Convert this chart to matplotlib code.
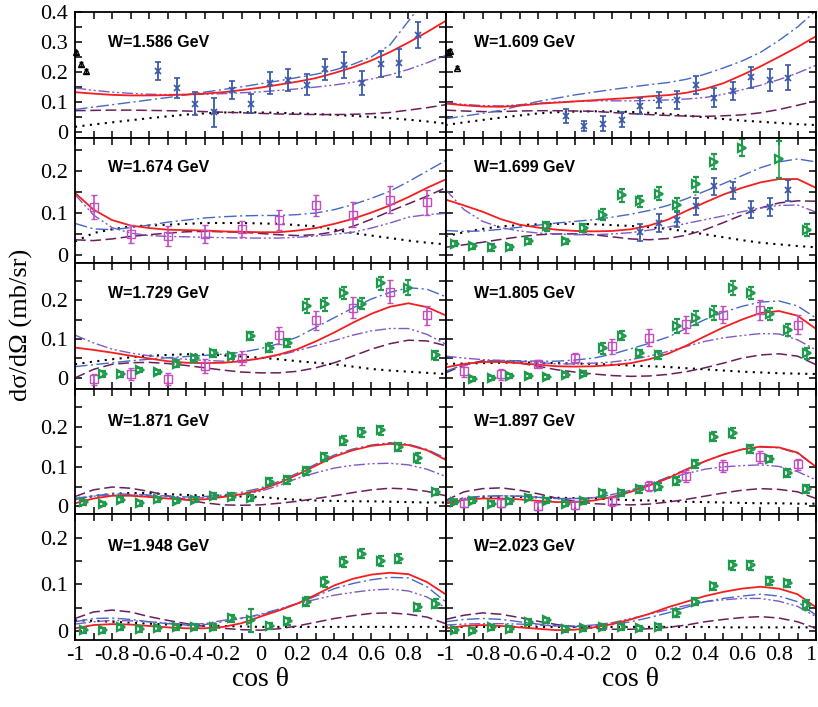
import numpy as np
import matplotlib.pyplot as plt

plt.rcParams['font.family'] = ['Liberation Serif', 'DejaVu Serif']

energies = ["1.586", "1.609", "1.674", "1.699", "1.729",
            "1.805", "1.871", "1.897", "1.948", "2.023"]

cos_grid = [-1.0, -0.9, -0.8, -0.7, -0.6, -0.5, -0.4, -0.3, -0.2, -0.1, 0.0,
            0.1, 0.2, 0.3, 0.4, 0.5, 0.6, 0.7, 0.8, 0.9, 1.0]

# model curves, one row per energy (red solid)
full_model = [
    [0.132, 0.127, 0.123, 0.121, 0.121, 0.122, 0.124, 0.127, 0.132, 0.139, 0.147, 0.157, 0.167, 0.179, 0.196, 0.215, 0.238, 0.266, 0.298, 0.333, 0.370],
    [0.094, 0.088, 0.084, 0.083, 0.087, 0.093, 0.097, 0.101, 0.105, 0.109, 0.113, 0.118, 0.122, 0.130, 0.143, 0.162, 0.189, 0.218, 0.250, 0.283, 0.319],
    [0.148, 0.108, 0.083, 0.070, 0.064, 0.060, 0.059, 0.058, 0.056, 0.055, 0.054, 0.054, 0.058, 0.064, 0.074, 0.086, 0.101, 0.118, 0.138, 0.160, 0.180],
    [0.132, 0.118, 0.103, 0.085, 0.072, 0.065, 0.060, 0.057, 0.056, 0.057, 0.061, 0.070, 0.084, 0.105, 0.125, 0.144, 0.160, 0.173, 0.181, 0.181, 0.160],
    [0.078, 0.072, 0.065, 0.057, 0.050, 0.043, 0.039, 0.038, 0.039, 0.043, 0.050, 0.060, 0.074, 0.094, 0.117, 0.142, 0.165, 0.183, 0.192, 0.182, 0.161],
    [0.027, 0.036, 0.041, 0.041, 0.038, 0.034, 0.030, 0.029, 0.030, 0.033, 0.038, 0.048, 0.062, 0.083, 0.107, 0.130, 0.150, 0.167, 0.172, 0.160, 0.126],
    [0.008, 0.020, 0.027, 0.027, 0.024, 0.020, 0.017, 0.018, 0.024, 0.031, 0.042, 0.059, 0.080, 0.103, 0.126, 0.142, 0.153, 0.158, 0.155, 0.142, 0.118],
    [0.007, 0.017, 0.020, 0.020, 0.018, 0.014, 0.011, 0.011, 0.015, 0.024, 0.037, 0.053, 0.071, 0.093, 0.114, 0.131, 0.144, 0.151, 0.149, 0.136, 0.100],
    [0.006, 0.013, 0.015, 0.014, 0.011, 0.008, 0.006, 0.006, 0.009, 0.017, 0.031, 0.044, 0.059, 0.078, 0.098, 0.112, 0.121, 0.125, 0.122, 0.105, 0.079],
    [0.006, 0.011, 0.013, 0.011, 0.008, 0.005, 0.002, 0.003, 0.008, 0.015, 0.025, 0.037, 0.051, 0.063, 0.075, 0.084, 0.091, 0.095, 0.091, 0.079, 0.051],
]

# blue dash-dot
model_dashdot = [
    [0.074, 0.082, 0.090, 0.098, 0.106, 0.114, 0.123, 0.132, 0.141, 0.150, 0.160, 0.170, 0.181, 0.192, 0.206, 0.225, 0.250, 0.290, 0.370, 0.450, 0.520],
    [0.043, 0.052, 0.061, 0.071, 0.087, 0.101, 0.112, 0.123, 0.132, 0.141, 0.149, 0.157, 0.164, 0.175, 0.192, 0.213, 0.236, 0.265, 0.305, 0.350, 0.405],
    [0.075, 0.062, 0.060, 0.065, 0.071, 0.078, 0.083, 0.088, 0.091, 0.093, 0.094, 0.094, 0.096, 0.100, 0.108, 0.120, 0.135, 0.152, 0.175, 0.200, 0.225],
    [0.058, 0.056, 0.057, 0.061, 0.066, 0.071, 0.076, 0.080, 0.084, 0.090, 0.097, 0.106, 0.118, 0.134, 0.152, 0.170, 0.189, 0.208, 0.222, 0.229, 0.222],
    [0.029, 0.034, 0.039, 0.044, 0.048, 0.052, 0.055, 0.058, 0.061, 0.066, 0.075, 0.088, 0.105, 0.130, 0.155, 0.180, 0.203, 0.220, 0.232, 0.228, 0.209],
    [0.017, 0.034, 0.043, 0.045, 0.044, 0.043, 0.043, 0.046, 0.051, 0.061, 0.075, 0.089, 0.105, 0.127, 0.150, 0.169, 0.184, 0.195, 0.198, 0.185, 0.154],
    [0.017, 0.027, 0.032, 0.031, 0.029, 0.026, 0.024, 0.025, 0.029, 0.036, 0.046, 0.063, 0.084, 0.107, 0.130, 0.145, 0.155, 0.161, 0.157, 0.144, 0.122],
    [0.015, 0.022, 0.026, 0.027, 0.026, 0.023, 0.020, 0.020, 0.022, 0.030, 0.041, 0.056, 0.074, 0.094, 0.114, 0.131, 0.144, 0.150, 0.148, 0.134, 0.100],
    [0.020, 0.027, 0.028, 0.025, 0.020, 0.016, 0.013, 0.014, 0.020, 0.027, 0.036, 0.047, 0.059, 0.075, 0.091, 0.102, 0.110, 0.115, 0.114, 0.095, 0.063],
    [0.020, 0.025, 0.027, 0.025, 0.020, 0.015, 0.011, 0.010, 0.011, 0.014, 0.020, 0.029, 0.039, 0.051, 0.063, 0.070, 0.075, 0.079, 0.075, 0.063, 0.034],
]

# purple dash-dot-dot
model_dashdotdot = [
    [0.146, 0.138, 0.132, 0.128, 0.125, 0.124, 0.124, 0.125, 0.127, 0.130, 0.133, 0.138, 0.143, 0.149, 0.156, 0.165, 0.176, 0.190, 0.208, 0.230, 0.255],
    [0.097, 0.091, 0.087, 0.086, 0.090, 0.095, 0.099, 0.101, 0.103, 0.103, 0.103, 0.104, 0.106, 0.109, 0.114, 0.125, 0.140, 0.155, 0.174, 0.196, 0.222],
    [0.144, 0.095, 0.065, 0.052, 0.046, 0.044, 0.043, 0.042, 0.041, 0.040, 0.040, 0.040, 0.042, 0.045, 0.049, 0.054, 0.064, 0.076, 0.090, 0.096, 0.099],
    [0.156, 0.108, 0.080, 0.065, 0.057, 0.052, 0.050, 0.048, 0.048, 0.050, 0.053, 0.059, 0.066, 0.075, 0.084, 0.093, 0.103, 0.112, 0.118, 0.119, 0.102],
    [0.110, 0.090, 0.074, 0.064, 0.057, 0.052, 0.048, 0.045, 0.043, 0.045, 0.050, 0.058, 0.070, 0.083, 0.096, 0.110, 0.121, 0.127, 0.127, 0.112, 0.087],
    [0.056, 0.051, 0.047, 0.045, 0.043, 0.040, 0.036, 0.036, 0.038, 0.041, 0.047, 0.056, 0.068, 0.081, 0.094, 0.103, 0.109, 0.114, 0.113, 0.098, 0.072],
    [0.021, 0.026, 0.029, 0.029, 0.027, 0.024, 0.021, 0.022, 0.025, 0.030, 0.038, 0.053, 0.071, 0.085, 0.097, 0.104, 0.108, 0.109, 0.105, 0.094, 0.076],
    [0.011, 0.020, 0.026, 0.027, 0.026, 0.023, 0.020, 0.020, 0.022, 0.030, 0.041, 0.055, 0.071, 0.083, 0.094, 0.100, 0.103, 0.105, 0.101, 0.088, 0.067],
    [0.015, 0.020, 0.023, 0.022, 0.020, 0.017, 0.015, 0.016, 0.023, 0.028, 0.034, 0.046, 0.059, 0.068, 0.077, 0.083, 0.088, 0.090, 0.086, 0.073, 0.050],
    [0.013, 0.015, 0.016, 0.016, 0.015, 0.013, 0.011, 0.011, 0.013, 0.018, 0.027, 0.036, 0.046, 0.055, 0.063, 0.067, 0.070, 0.070, 0.064, 0.053, 0.031],
]

# dark purple dashed
model_dashed = [
    [0.070, 0.071, 0.072, 0.072, 0.071, 0.070, 0.069, 0.067, 0.065, 0.063, 0.061, 0.059, 0.058, 0.057, 0.057, 0.058, 0.060, 0.064, 0.072, 0.080, 0.090],
    [0.072, 0.069, 0.067, 0.067, 0.069, 0.070, 0.070, 0.069, 0.068, 0.064, 0.060, 0.057, 0.054, 0.052, 0.051, 0.053, 0.056, 0.063, 0.074, 0.088, 0.103],
    [0.036, 0.034, 0.038, 0.044, 0.048, 0.052, 0.055, 0.056, 0.055, 0.054, 0.051, 0.048, 0.046, 0.048, 0.055, 0.068, 0.085, 0.104, 0.122, 0.140, 0.160],
    [0.018, 0.024, 0.030, 0.037, 0.043, 0.048, 0.050, 0.050, 0.048, 0.043, 0.038, 0.036, 0.039, 0.047, 0.060, 0.077, 0.095, 0.112, 0.124, 0.129, 0.128],
    [0.000, 0.022, 0.035, 0.039, 0.040, 0.037, 0.032, 0.026, 0.020, 0.015, 0.013, 0.013, 0.017, 0.026, 0.039, 0.056, 0.074, 0.088, 0.097, 0.095, 0.083],
    [0.013, 0.033, 0.044, 0.043, 0.038, 0.030, 0.021, 0.015, 0.010, 0.006, 0.004, 0.005, 0.009, 0.016, 0.026, 0.038, 0.051, 0.059, 0.062, 0.056, 0.034],
    [0.025, 0.042, 0.049, 0.046, 0.038, 0.027, 0.017, 0.009, 0.004, 0.003, 0.004, 0.008, 0.013, 0.020, 0.027, 0.035, 0.042, 0.046, 0.044, 0.038, 0.027],
    [0.015, 0.037, 0.045, 0.047, 0.041, 0.032, 0.021, 0.013, 0.007, 0.005, 0.004, 0.006, 0.011, 0.018, 0.026, 0.034, 0.041, 0.045, 0.043, 0.037, 0.020],
    [0.027, 0.041, 0.045, 0.041, 0.031, 0.023, 0.016, 0.010, 0.006, 0.003, 0.002, 0.005, 0.011, 0.019, 0.027, 0.033, 0.038, 0.039, 0.036, 0.030, 0.016],
    [0.025, 0.034, 0.039, 0.036, 0.029, 0.021, 0.014, 0.009, 0.006, 0.004, 0.004, 0.005, 0.008, 0.013, 0.020, 0.025, 0.029, 0.031, 0.028, 0.020, 0.006],
]

# black dotted
model_dotted = [
    [0.016, 0.024, 0.031, 0.038, 0.045, 0.051, 0.057, 0.061, 0.064, 0.065, 0.064, 0.063, 0.061, 0.059, 0.056, 0.053, 0.049, 0.045, 0.040, 0.034, 0.027],
    [0.022, 0.031, 0.039, 0.047, 0.054, 0.061, 0.065, 0.067, 0.068, 0.068, 0.066, 0.063, 0.059, 0.053, 0.048, 0.042, 0.037, 0.033, 0.029, 0.025, 0.022],
    [0.032, 0.052, 0.061, 0.068, 0.070, 0.072, 0.074, 0.076, 0.076, 0.076, 0.075, 0.074, 0.071, 0.068, 0.060, 0.052, 0.046, 0.040, 0.034, 0.029, 0.025],
    [0.044, 0.054, 0.062, 0.068, 0.071, 0.073, 0.074, 0.074, 0.073, 0.071, 0.069, 0.066, 0.062, 0.056, 0.049, 0.042, 0.035, 0.029, 0.025, 0.021, 0.018],
    [0.035, 0.042, 0.048, 0.053, 0.057, 0.059, 0.061, 0.060, 0.058, 0.055, 0.052, 0.048, 0.043, 0.039, 0.035, 0.029, 0.023, 0.019, 0.016, 0.013, 0.010],
    [0.036, 0.037, 0.038, 0.039, 0.040, 0.039, 0.038, 0.037, 0.036, 0.034, 0.032, 0.030, 0.028, 0.025, 0.022, 0.019, 0.016, 0.014, 0.012, 0.011, 0.010],
    [0.018, 0.026, 0.032, 0.034, 0.034, 0.031, 0.029, 0.028, 0.027, 0.025, 0.024, 0.020, 0.017, 0.015, 0.014, 0.013, 0.013, 0.012, 0.011, 0.010, 0.010],
    [0.009, 0.020, 0.023, 0.024, 0.024, 0.023, 0.022, 0.021, 0.020, 0.018, 0.016, 0.015, 0.014, 0.012, 0.011, 0.010, 0.009, 0.008, 0.008, 0.007, 0.007],
    [0.023, 0.022, 0.020, 0.018, 0.016, 0.014, 0.013, 0.012, 0.011, 0.010, 0.009, 0.009, 0.009, 0.009, 0.009, 0.009, 0.009, 0.009, 0.009, 0.009, 0.009],
    [0.009, 0.009, 0.009, 0.009, 0.009, 0.009, 0.009, 0.009, 0.009, 0.009, 0.009, 0.009, 0.009, 0.009, 0.009, 0.008, 0.008, 0.008, 0.008, 0.008, 0.008],
]

# data: blue crosses (panels 0, 1, 3)
cross_x = {0: [-0.55, -0.45, -0.35, -0.25, -0.15, -0.05, 0.05, 0.15, 0.25, 0.35, 0.45, 0.55, 0.65, 0.75, 0.85],
           1: [-0.35, -0.25, -0.15, -0.05, 0.05, 0.15, 0.25, 0.35, 0.45, 0.55, 0.65, 0.75, 0.85],
           3: [0.05, 0.15, 0.25, 0.35, 0.45, 0.55, 0.65, 0.75, 0.85]}
cross_y = {0: [0.202, 0.146, 0.094, 0.065, 0.138, 0.094, 0.162, 0.173, 0.157, 0.208, 0.222, 0.164, 0.227, 0.229, 0.324],
           1: [0.052, 0.019, 0.027, 0.040, 0.086, 0.106, 0.106, 0.155, 0.114, 0.135, 0.182, 0.173, 0.181],
           3: [0.054, 0.076, 0.084, 0.116, 0.164, 0.154, 0.108, 0.114, 0.154]}
cross_err = {0: [0.030, 0.034, 0.040, 0.049, 0.030, 0.031, 0.036, 0.037, 0.036, 0.035, 0.043, 0.040, 0.043, 0.046, 0.043],
             1: [0.024, 0.018, 0.025, 0.024, 0.027, 0.028, 0.030, 0.030, 0.032, 0.030, 0.035, 0.038, 0.043],
             3: [0.020, 0.022, 0.018, 0.020, 0.020, 0.020, 0.020, 0.022, 0.025]}

# data: magenta open squares (panels 2, 4, 5, 7)
square_x = [-0.9, -0.7, -0.5, -0.3, -0.1, 0.1, 0.3, 0.5, 0.7, 0.9]
square_y = {2: [0.114, 0.050, 0.044, 0.050, 0.062, 0.084, 0.118, 0.096, 0.132, 0.126],
            4: [-0.004, 0.010, -0.003, 0.030, 0.052, 0.110, 0.148, 0.180, 0.222, 0.161],
            5: [0.017, 0.009, 0.037, 0.051, 0.081, 0.103, 0.138, 0.162, 0.175, 0.137],
            7: [0.009, 0.009, 0.000, 0.004, 0.013, 0.052, 0.076, 0.103, 0.125, 0.106]}
square_err = {2: [0.029, 0.021, 0.024, 0.022, 0.020, 0.024, 0.026, 0.029, 0.033, 0.030],
              4: [0.013, 0.015, 0.016, 0.018, 0.018, 0.022, 0.025, 0.027, 0.030, 0.025],
              5: [0.015, 0.015, 0.010, 0.012, 0.020, 0.022, 0.022, 0.022, 0.025, 0.025],
              7: [0.010, 0.010, 0.010, 0.010, 0.012, 0.013, 0.015, 0.015, 0.015, 0.015]}

# data: green open triangles (panels 3..9)
half_bins = [-0.95, -0.85, -0.75, -0.65, -0.55, -0.45, -0.35, -0.25, -0.15, -0.05,
             0.05, 0.15, 0.25, 0.35, 0.45, 0.55, 0.65, 0.75, 0.85, 0.95]
tri_x = {3: [-0.95, -0.85, -0.75, -0.65, -0.55, -0.45, -0.35, -0.25, -0.15, -0.05, 0.05, 0.15, 0.25, 0.35, 0.45, 0.6, 0.8, 0.95],
         4: [-0.85, -0.75, -0.65, -0.55, -0.45, -0.35, -0.25, -0.15, -0.05, 0.05, 0.15, 0.25, 0.35, 0.45, 0.55, 0.65, 0.8, 0.95],
         5: half_bins[1:],
         6: half_bins, 7: half_bins, 8: half_bins, 9: half_bins}
tri_y = {3: [0.026, 0.020, 0.018, 0.018, 0.032, 0.068, 0.032, 0.064, 0.096, 0.142, 0.128, 0.146, 0.120, 0.168, 0.222, 0.256, 0.228, 0.060],
         4: [0.011, 0.009, 0.020, 0.015, 0.037, 0.050, 0.063, 0.057, 0.107, 0.078, 0.090, 0.185, 0.189, 0.219, 0.191, 0.243, 0.232, 0.058],
         5: [-0.002, 0.000, 0.004, 0.004, 0.003, 0.007, 0.011, 0.076, 0.109, 0.063, 0.059, 0.134, 0.153, 0.166, 0.231, 0.218, 0.164, 0.123, 0.063],
         6: [0.010, 0.006, 0.017, 0.008, 0.018, 0.014, 0.017, 0.027, 0.025, 0.021, 0.063, 0.067, 0.090, 0.126, 0.166, 0.187, 0.192, 0.150, 0.122, 0.037],
         7: [0.011, 0.015, 0.007, 0.013, 0.022, 0.015, 0.007, 0.013, 0.033, 0.034, 0.043, 0.050, 0.065, 0.108, 0.176, 0.185, 0.146, 0.120, 0.084, 0.043],
         8: [0.002, 0.002, 0.008, 0.004, 0.006, 0.008, 0.009, 0.009, 0.027, 0.023, 0.011, 0.021, 0.063, 0.105, 0.148, 0.166, 0.150, 0.155, 0.051, 0.059],
         9: [0.002, 0.001, 0.008, 0.004, 0.020, 0.023, 0.004, 0.006, 0.009, 0.009, 0.006, 0.009, 0.039, 0.063, 0.096, 0.141, 0.141, 0.107, 0.102, 0.056]}
tri_err = {3: [0.006, 0.006, 0.008, 0.006, 0.006, 0.010, 0.006, 0.010, 0.013, 0.015, 0.013, 0.015, 0.015, 0.018, 0.018, 0.020, 0.045, 0.014],
           4: [0.008, 0.006, 0.006, 0.006, 0.008, 0.008, 0.008, 0.008, 0.010, 0.012, 0.010, 0.018, 0.016, 0.016, 0.014, 0.016, 0.020, 0.012],
           5: [0.005, 0.005, 0.005, 0.005, 0.005, 0.005, 0.006, 0.015, 0.012, 0.010, 0.010, 0.018, 0.018, 0.018, 0.018, 0.015, 0.015, 0.015, 0.014],
           6: [0.006, 0.005, 0.006, 0.006, 0.006, 0.006, 0.006, 0.008, 0.008, 0.008, 0.008, 0.010, 0.010, 0.010, 0.012, 0.012, 0.012, 0.010, 0.012, 0.008],
           7: [0.006, 0.006, 0.006, 0.006, 0.006, 0.006, 0.006, 0.006, 0.008, 0.008, 0.008, 0.008, 0.010, 0.010, 0.012, 0.012, 0.010, 0.008, 0.010, 0.010],
           8: [0.005, 0.005, 0.006, 0.006, 0.006, 0.006, 0.006, 0.006, 0.008, 0.025, 0.006, 0.008, 0.010, 0.010, 0.010, 0.010, 0.010, 0.010, 0.008, 0.010],
           9: [0.005, 0.005, 0.006, 0.006, 0.006, 0.006, 0.006, 0.006, 0.006, 0.006, 0.006, 0.006, 0.008, 0.008, 0.008, 0.010, 0.010, 0.008, 0.008, 0.010]}

# data: black open triangles near backward angles (panels 0, 1)
back_x = {0: [-0.995, -0.97, -0.94], 1: [-0.985, -0.975, -0.94]}
back_y = {0: [0.265, 0.227, 0.202], 1: [0.267, 0.270, 0.214]}

row_ylim = [(-0.02, 0.40), (-0.02, 0.28), (-0.028, 0.295), (-0.02, 0.297), (-0.019, 0.25)]
row_yticks = [[0, 0.1, 0.2, 0.3, 0.4], [0, 0.1, 0.2], [0, 0.1, 0.2], [0, 0.1, 0.2], [0, 0.1, 0.2]]
label_y = [0.76, 0.765, 0.76, 0.74, 0.745]

xticks = [-1, -0.8, -0.6, -0.4, -0.2, 0, 0.2, 0.4, 0.6, 0.8, 1]
xminor = [-0.9, -0.7, -0.5, -0.3, -0.1, 0.1, 0.3, 0.5, 0.7, 0.9]

c_red = '#f41e1e'
c_blue = '#4468c4'
c_purple = '#8058c8'
c_dash = '#6a1e5c'
c_cross = '#3a58a8'
c_square = '#c24cc0'
c_tri = '#1e9a4c'

fig, axes = plt.subplots(5, 2, figsize=(8.18, 7.07), dpi=100)
plt.subplots_adjust(left=0.0917, right=0.9976, top=0.983, bottom=0.0948, hspace=0, wspace=0)

for i, ax in enumerate(axes.flat):
    row, col = divmod(i, 2)

    ax.plot(cos_grid, model_dotted[i], color='black', lw=1.5, ls=(0, (1, 2.6)))
    ax.plot(cos_grid, model_dashed[i], color=c_dash, lw=1.1, ls=(0, (7, 3)))
    ax.plot(cos_grid, model_dashdotdot[i], color=c_purple, lw=1.0, ls=(0, (8, 2, 1.5, 2, 1.5, 2)))
    ax.plot(cos_grid, model_dashdot[i], color=c_blue, lw=1.0, ls=(0, (9, 2.5, 1.5, 2.5)))
    ax.plot(cos_grid, full_model[i], color=c_red, lw=1.3)

    if i in cross_x:
        ax.errorbar(cross_x[i], cross_y[i], yerr=cross_err[i], fmt='x', color=c_cross,
                    ms=4.5, mew=1.2, elinewidth=1.3, capsize=2)
    if i in square_y:
        ax.errorbar(square_x, square_y[i], yerr=square_err[i], fmt='s', color=c_square,
                    mfc='none', ms=6, mew=1.0, elinewidth=1.2, capsize=2)
    if i in tri_y:
        ax.errorbar(tri_x[i], tri_y[i], yerr=tri_err[i], fmt='>', color=c_tri,
                    mfc='none', ms=6, mew=1.6, elinewidth=1.2, capsize=2)
    if i in back_y:
        ax.errorbar(back_x[i], back_y[i], yerr=0.006, fmt='^', color='black',
                    mfc='none', ms=4.5, mew=1.0, elinewidth=1.0, capsize=1.5, clip_on=False)

    ax.set_xlim(-1, 1)
    ax.set_ylim(*row_ylim[row])
    ax.set_xticks(xticks)
    ax.set_xticks(xminor, minor=True)
    yt = row_yticks[row]
    ax.set_yticks(yt)
    ax.set_yticks([v + 0.05 for v in yt if v + 0.05 < row_ylim[row][1]], minor=True)

    ax.tick_params(which='both', direction='in', top=True, right=True,
                   length=5, width=1.1, labelsize=16)
    ax.tick_params(axis='x', pad=4)
    ax.tick_params(axis='y', pad=5)
    for sp in ax.spines.values():
        sp.set_linewidth(1.3)

    if col == 0:
        ax.set_yticklabels(['%g' % v for v in yt])
    else:
        ax.set_yticklabels([])

    if row == 4:
        labs = ['%g' % v for v in xticks]
        if col == 0:
            labs[-1] = ''
        ax.set_xticklabels(labs)
        if col == 1:
            # keep the last label inside the figure edge
            ax.get_xticklabels()[-1].set_horizontalalignment('right')
        ax.set_xlabel('cos θ', fontsize=20, labelpad=2)
    else:
        ax.set_xticklabels([])

    ax.text(0.088 if col == 0 else 0.078, label_y[row], 'W=' + energies[i] + ' GeV',
            transform=ax.transAxes, ha='left', va='center',
            fontsize=11.5, fontweight='bold', family=['Liberation Sans', 'DejaVu Sans'])

fig.text(0.026, 0.54, 'dσ/dΩ (mb/sr)', rotation=90, ha='center', va='center', fontsize=19)

fig.savefig('out.png', dpi=100)
